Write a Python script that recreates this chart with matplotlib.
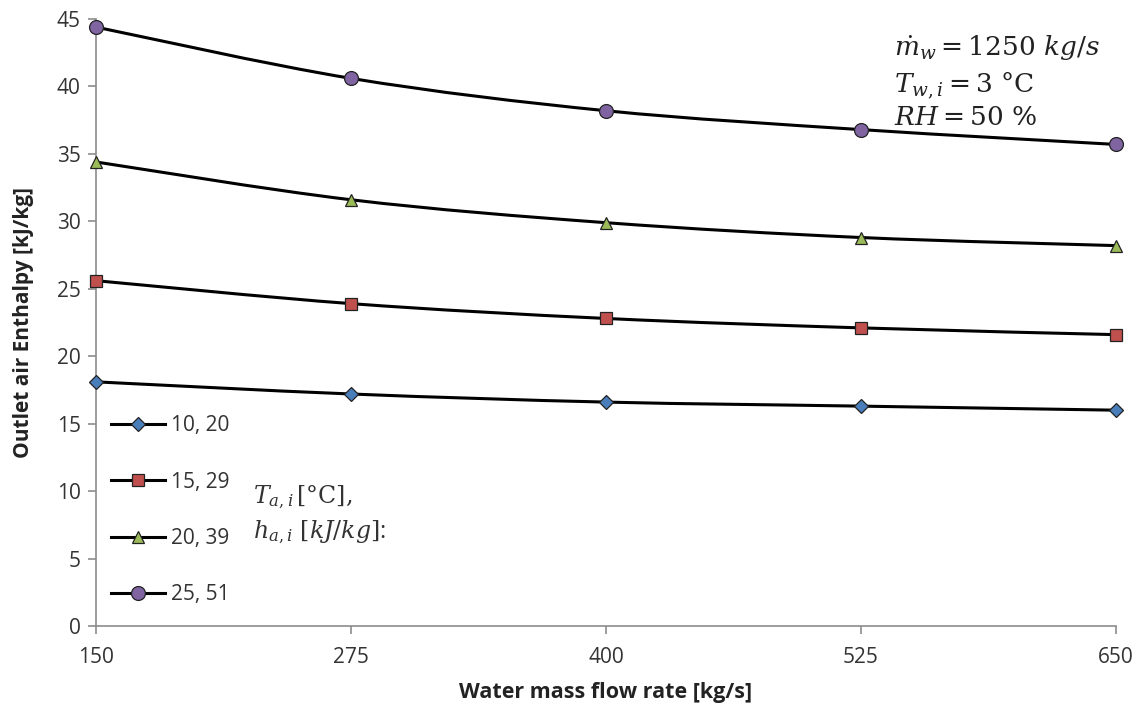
import matplotlib

matplotlib.use("Agg")
import matplotlib.pyplot as plt
from matplotlib.path import Path
from matplotlib.patches import PathPatch

# water mass flow rate [kg/s]
flow = [150, 275, 400, 525, 650]

# outlet air enthalpy [kJ/kg] per inlet air condition (T_a,i, h_a,i)
h_10_20 = [18.1, 17.2, 16.6, 16.3, 16.0]
h_15_29 = [25.6, 23.9, 22.8, 22.1, 21.6]
h_20_39 = [34.4, 31.6, 29.9, 28.8, 28.2]
h_25_51 = [44.4, 40.6, 38.2, 36.8, 35.7]

series = [
    ("10, 20", h_10_20, "D", "#4a7ebb", 7),
    ("15, 29", h_15_29, "s", "#c0504d", 9),
    ("20, 39", h_20_39, "^", "#9bbb59", 9),
    ("25, 51", h_25_51, "o", "#8064a2", 10),
]

plt.rcParams["font.family"] = ["Open Sans", "DejaVu Sans"]
plt.rcParams["mathtext.fontset"] = "dejavuserif"


def smooth_path(xs, ys, tension=1 / 6):
    """Cubic Bezier through the points (Catmull-Rom style, like spreadsheet smoothing)."""
    verts = [(xs[0], ys[0])]
    codes = [Path.MOVETO]
    n = len(xs)
    for i in range(n - 1):
        x0, y0 = (xs[i - 1], ys[i - 1]) if i > 0 else (xs[i], ys[i])
        x1, y1 = xs[i], ys[i]
        x2, y2 = xs[i + 1], ys[i + 1]
        x3, y3 = (xs[i + 2], ys[i + 2]) if i + 2 < n else (x2, y2)
        c1 = (x1 + (x2 - x0) * tension, y1 + (y2 - y0) * tension)
        c2 = (x2 - (x3 - x1) * tension, y2 - (y3 - y1) * tension)
        verts += [c1, c2, (x2, y2)]
        codes += [Path.CURVE4] * 3
    return Path(verts, codes)


fig = plt.figure(figsize=(11.42, 7.08), dpi=100)
ax = fig.add_axes([96 / 1142, 82 / 708, 1020 / 1142, 607 / 708])

handles = []
for label, ys, mk, col, ms in series:
    ax.add_patch(PathPatch(smooth_path(flow, ys), fill=False, lw=2.2, ec="black", zorder=2))
    ax.plot(flow, ys, ls="none", marker=mk, ms=ms, mfc=col, mec="#222222",
            mew=0.9, zorder=3, clip_on=False)
    proxy = plt.Line2D([], [], color="black", lw=2.2, marker=mk, ms=ms, mfc=col,
                       mec="#222222", mew=0.9)
    handles.append((proxy, label))

ax.set_xlim(150, 650)
ax.set_ylim(0, 45)
ax.set_xticks(flow)
ax.set_yticks(range(0, 46, 5))
for s in ("top", "right"):
    ax.spines[s].set_visible(False)
for s in ("left", "bottom"):
    ax.spines[s].set_color("#8c8c8c")
    ax.spines[s].set_linewidth(1.2)
ax.tick_params(direction="out", length=6, width=1.2, color="#8c8c8c",
               labelsize=15, labelcolor="#333333")
ax.tick_params(axis="x", pad=9)
ax.tick_params(axis="y", pad=5)

ax.set_xlabel("Water mass flow rate [kg/s]", fontsize=15.5, fontweight="bold",
              color="#222222", labelpad=10)
ax.set_ylabel("Outlet air Enthalpy [kJ/kg]", fontsize=15, fontweight="bold",
              color="#222222", labelpad=16)

leg = ax.legend([h for h, _ in handles], [l for _, l in handles], loc="lower left",
                bbox_to_anchor=(0.0, 0.01), frameon=False, fontsize=15,
                labelspacing=1.7, handlelength=2.6, handletextpad=0.3,
                borderaxespad=0.3, labelcolor="#333333")

ax.text(0.154, 0.183, r"$T_{a,i}\,[\mathrm{°C}],$" "\n" r"$h_{a,i}\ [kJ/kg]$:",
        transform=ax.transAxes, fontsize=17, color="#333333", va="center",
        linespacing=1.4)

ax.text(0.782, 0.975, r"$\dot{m}_w = 1250\ kg/s$" "\n" r"$T_{w,i} = 3\ \mathrm{°C}$"
        "\n" r"$RH = 50\ \%$", transform=ax.transAxes, fontsize=19,
        color="#222222", va="top", linespacing=1.25)

fig.savefig("out.png", dpi=100)
